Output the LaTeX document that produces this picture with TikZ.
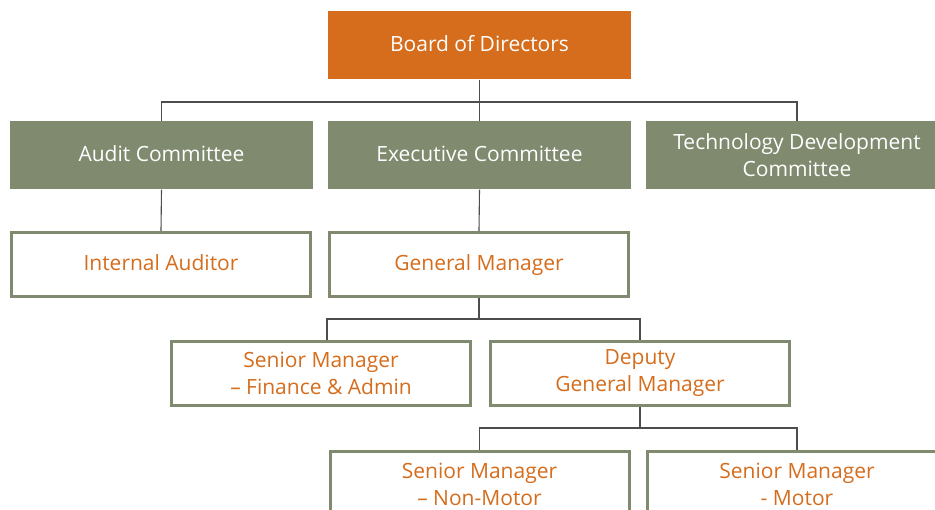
\documentclass[tikz,border=0pt]{standalone}
\usepackage{fontspec}
\setmainfont{Open Sans}
\usepackage{tikz}

\definecolor{naranja}{HTML}{D56D1D}
\definecolor{verde}{HTML}{7F8A6E}
\definecolor{linea}{HTML}{4D4D4D}

\tikzset{
  caja/.style={minimum width=303pt, minimum height=68pt, inner sep=0pt, align=center,
    font=\fontsize{21}{27}\selectfont},
  una/.style={text height=16pt, text depth=4pt},
  llena/.style={caja, fill=#1, text=white},
  hueca/.style={caja, draw=verde, line width=3pt, fill=white, text=naranja,
    minimum width=299pt, minimum height=64pt},
  enlace/.style={draw=linea, line width=1.1pt}
}

\begin{document}
\begin{tikzpicture}[x=1pt, y=-1pt]
  \useasboundingbox (0,0) rectangle (935,510);
  \clip (0,0) rectangle (935,510);

  % Cajas
  \node[llena=naranja, una] (board) at (479.5,45.5) {Board of Directors};
  \node[llena=verde, una] (audit) at (161.5,155.5) {Audit Committee};
  \node[llena=verde, una] (exec) at (479.5,155.5) {Executive Committee};
  \node[llena=verde] (tech) at (797,155) {Technology Development\\Committee};
  \node[hueca, una] (ia) at (161,264.5) {Internal Auditor};
  \node[hueca, una] (gm) at (479,264.5) {General Manager};
  \node[hueca] (fa) at (321,373.5) {Senior Manager\\– Finance \& Admin};
  \node[hueca] (dgm) at (640,373.5) {Deputy\\General Manager};
  \node[hueca] (nm) at (479.5,484) {Senior Manager\\– Non-Motor};
  \node[hueca] (mot) at (797,484) {Senior Manager\\- Motor};

  % Puntos de las barras
  \coordinate (bus1) at (479.5,102);
  \coordinate (bus2) at (479,319);
  \coordinate (bus3) at (640,428);

  % Lineas
  \draw[enlace] (board.south) -- (exec.north);
  \draw[enlace] (audit.north) |- (bus1) -| (tech.north);
  \draw[enlace] (audit.south) -- (ia.north);
  \draw[enlace] (exec.south) -- (gm.north);
  \draw[enlace] (gm.south) -- (bus2);
  \draw[enlace] ([xshift=6pt]fa.north) |- (bus2) -| (dgm.north);
  \draw[enlace] (dgm.south) -- (bus3);
  \draw[enlace] (nm.north) |- (bus3) -| (mot.north);
\end{tikzpicture}
\end{document}
